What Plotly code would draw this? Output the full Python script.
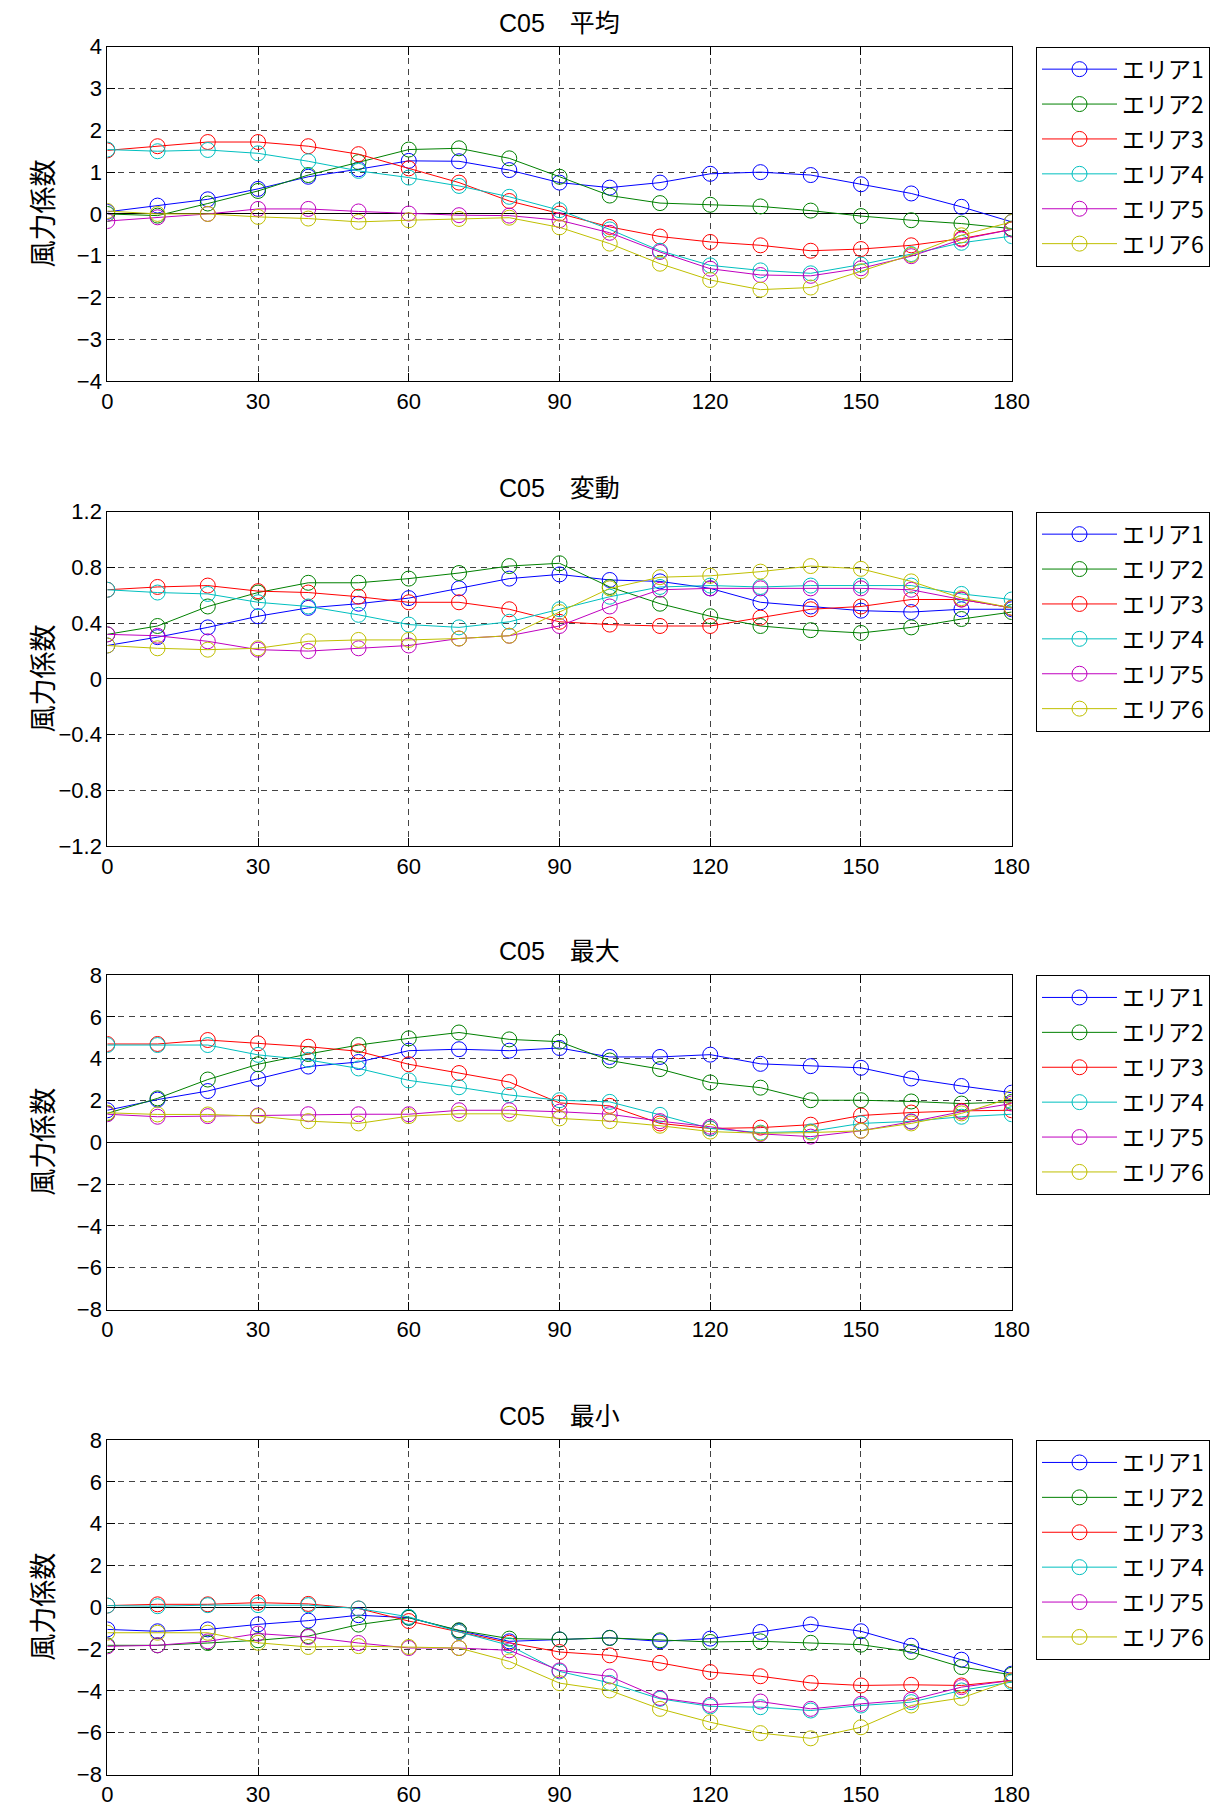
import plotly.graph_objects as go

angles = [0, 10, 20, 30, 40, 50, 60, 70, 80, 90, 100, 110, 120, 130, 140, 150, 160, 170, 180]
area_names = ["エリア1", "エリア2", "エリア3", "エリア4", "エリア5", "エリア6"]
area_colors = ["#0000ff", "#008000", "#ff0000", "#00bfbf", "#bf00bf", "#bfbf00"]
panel_titles = ["C05　平均", "C05　変動", "C05　最大", "C05　最小"]
y_title = "風力係数"
x_ticks = [0, 30, 60, 90, 120, 150, 180]

# 平均
mean_a1 = [0.05, 0.2, 0.35, 0.6, 0.89, 1.07, 1.27, 1.26, 1.05, 0.75, 0.63, 0.75, 0.96, 1.0, 0.93, 0.71, 0.49, 0.17, -0.19]
mean_a2 = [0.0, -0.04, 0.25, 0.55, 0.93, 1.24, 1.54, 1.57, 1.33, 0.89, 0.44, 0.26, 0.22, 0.18, 0.08, -0.05, -0.15, -0.23, -0.35]
mean_a3 = [1.52, 1.62, 1.72, 1.72, 1.62, 1.43, 1.09, 0.75, 0.31, 0.01, -0.31, -0.54, -0.67, -0.75, -0.88, -0.84, -0.75, -0.59, -0.37]
mean_a4 = [1.54, 1.5, 1.53, 1.45, 1.26, 1.03, 0.87, 0.67, 0.41, 0.09, -0.37, -0.88, -1.23, -1.35, -1.42, -1.21, -0.96, -0.69, -0.53]
mean_a5 = [-0.17, -0.08, 0.0, 0.12, 0.12, 0.06, 0.01, -0.03, -0.04, -0.15, -0.45, -0.91, -1.31, -1.46, -1.48, -1.3, -1.01, -0.61, -0.37]
mean_a6 = [0.07, 0.0, 0.0, -0.07, -0.11, -0.19, -0.15, -0.12, -0.09, -0.32, -0.71, -1.19, -1.58, -1.81, -1.76, -1.37, -0.98, -0.51, -0.19]

# 変動
std_a1 = [0.24, 0.3, 0.37, 0.45, 0.51, 0.54, 0.58, 0.65, 0.72, 0.75, 0.71, 0.7, 0.65, 0.55, 0.52, 0.49, 0.48, 0.5, 0.5]
std_a2 = [0.32, 0.38, 0.52, 0.62, 0.69, 0.69, 0.72, 0.76, 0.81, 0.83, 0.66, 0.54, 0.45, 0.38, 0.35, 0.33, 0.37, 0.43, 0.48]
std_a3 = [0.64, 0.66, 0.67, 0.63, 0.62, 0.59, 0.55, 0.55, 0.5, 0.41, 0.39, 0.38, 0.38, 0.44, 0.5, 0.52, 0.57, 0.57, 0.51]
std_a4 = [0.64, 0.62, 0.61, 0.55, 0.52, 0.46, 0.39, 0.37, 0.41, 0.5, 0.59, 0.66, 0.67, 0.66, 0.67, 0.67, 0.67, 0.61, 0.57]
std_a5 = [0.32, 0.31, 0.27, 0.21, 0.2, 0.22, 0.24, 0.29, 0.31, 0.38, 0.52, 0.64, 0.65, 0.65, 0.65, 0.65, 0.64, 0.57, 0.51]
std_a6 = [0.24, 0.22, 0.21, 0.22, 0.27, 0.28, 0.28, 0.29, 0.31, 0.48, 0.65, 0.73, 0.74, 0.77, 0.81, 0.79, 0.7, 0.58, 0.51]

# 最大
max_a1 = [1.53, 2.04, 2.45, 3.04, 3.62, 3.84, 4.38, 4.45, 4.38, 4.51, 4.08, 4.08, 4.19, 3.75, 3.64, 3.56, 3.05, 2.69, 2.37]
max_a2 = [1.38, 2.1, 3.0, 3.73, 4.22, 4.65, 4.97, 5.25, 4.92, 4.81, 3.91, 3.5, 2.86, 2.61, 2.01, 2.01, 1.95, 1.85, 1.93]
max_a3 = [4.7, 4.7, 4.89, 4.73, 4.57, 4.35, 3.73, 3.31, 2.88, 1.88, 1.74, 0.9, 0.66, 0.7, 0.84, 1.28, 1.42, 1.5, 1.53]
max_a4 = [4.65, 4.65, 4.65, 4.18, 3.94, 3.53, 2.96, 2.63, 2.26, 2.01, 1.93, 1.31, 0.66, 0.46, 0.52, 0.9, 1.0, 1.22, 1.34]
max_a5 = [1.34, 1.22, 1.25, 1.28, 1.34, 1.34, 1.34, 1.53, 1.53, 1.46, 1.34, 1.01, 0.74, 0.4, 0.27, 0.55, 0.98, 1.46, 1.85]
max_a6 = [1.41, 1.33, 1.33, 1.25, 1.01, 0.9, 1.25, 1.36, 1.36, 1.14, 1.01, 0.79, 0.51, 0.43, 0.46, 0.55, 0.9, 1.38, 2.12]

# 最小
min_a1 = [-1.06, -1.15, -1.06, -0.82, -0.64, -0.38, -0.5, -1.12, -1.63, -1.54, -1.46, -1.63, -1.5, -1.18, -0.82, -1.15, -1.84, -2.51, -3.18]
min_a2 = [-1.82, -1.82, -1.71, -1.58, -1.38, -0.83, -0.5, -1.1, -1.5, -1.54, -1.47, -1.58, -1.66, -1.63, -1.7, -1.79, -2.14, -2.86, -3.23]
min_a3 = [0.08, 0.14, 0.14, 0.22, 0.16, -0.06, -0.66, -1.18, -1.7, -2.14, -2.3, -2.66, -3.1, -3.3, -3.62, -3.74, -3.71, -3.74, -3.5]
min_a4 = [0.08, 0.05, 0.1, 0.1, 0.1, -0.06, -0.46, -1.18, -1.82, -3.07, -3.62, -4.38, -4.74, -4.78, -4.94, -4.7, -4.54, -3.98, -3.58]
min_a5 = [-1.87, -1.82, -1.63, -1.26, -1.42, -1.71, -1.95, -1.95, -2.06, -3.02, -3.31, -4.34, -4.67, -4.51, -4.86, -4.62, -4.43, -3.82, -3.5]
min_a6 = [-1.22, -1.22, -1.22, -1.7, -1.9, -1.86, -1.9, -1.95, -2.59, -3.63, -3.98, -4.86, -5.5, -6.02, -6.27, -5.74, -4.7, -4.34, -3.5]

panels = [
    [mean_a1, mean_a2, mean_a3, mean_a4, mean_a5, mean_a6],
    [std_a1, std_a2, std_a3, std_a4, std_a5, std_a6],
    [max_a1, max_a2, max_a3, max_a4, max_a5, max_a6],
    [min_a1, min_a2, min_a3, min_a4, min_a5, min_a6],
]
y_ranges = [(-4, 4, 1), (-1.2, 1.2, 0.4), (-8, 8, 2), (-8, 8, 2)]

# page body has an 8px margin, so the figure is placed at (8, 8) in the window
OFF = 8
W, H = 1223 - OFF, 1809 - OFF
plot_left, plot_right = 107.3 - OFF, 1011.7 - OFF
panel_tops = [t - OFF for t in (46.7, 511.7, 975.0, 1440.0)]
panel_h = 334.5
legend_left = 1036 - OFF
ytitle_x = 41.5 - OFF

FONT = "Liberation Sans, Noto Sans CJK JP, sans-serif"
JFONT = "Noto Sans CJK JP, sans-serif"

fig = go.Figure()
layout = dict(
    width=W, height=H,
    margin=dict(l=0, r=0, t=0, b=0, autoexpand=False),
    paper_bgcolor="white", plot_bgcolor="white",
    font=dict(family=FONT, size=22, color="black"),
    annotations=[],
)

for p, series in enumerate(panels):
    suffix = "" if p == 0 else str(p + 1)
    legend_name = "legend" + suffix
    for i, ys in enumerate(series):
        fig.add_trace(go.Scatter(
            x=angles, y=ys, name=area_names[i], mode="lines+markers",
            line=dict(color=area_colors[i], width=1),
            marker=dict(symbol="circle-open", size=15, color=area_colors[i], line=dict(width=1)),
            xaxis="x" + suffix, yaxis="y" + suffix, legend=legend_name,
            legendgroup="p%d_a%d" % (p, i),
        ))
    top = panel_tops[p]
    bottom = top + panel_h
    ydom = [1 - bottom / H, 1 - top / H]
    lo, hi, step = y_ranges[p]
    axis_common = dict(
        showline=True, linecolor="black", linewidth=1, mirror="ticks",
        ticks="inside", ticklen=8, tickcolor="black", automargin=False,
        showgrid=True, gridcolor="#444444", griddash="6px,5px", gridwidth=1,
        tickfont=dict(family=FONT, size=22, color="black"),
    )
    layout["xaxis" + suffix] = dict(
        axis_common, domain=[plot_left / W, plot_right / W], range=[0, 180],
        tickvals=x_ticks, zeroline=False, anchor="y" + suffix,
    )
    layout["yaxis" + suffix] = dict(
        axis_common, domain=ydom, range=[lo, hi], dtick=step, tick0=0,
        zeroline=True, zerolinecolor="black", zerolinewidth=1, anchor="x" + suffix,
    )
    layout[legend_name] = dict(
        x=legend_left / W, y=1 - top / H, xanchor="left", yanchor="top",
        bgcolor="white", bordercolor="black", borderwidth=1,
        font=dict(family=JFONT, size=23, color="black"),
        itemwidth=75, tracegroupgap=2, traceorder="grouped",
    )
    layout["annotations"].append(dict(
        text=panel_titles[p], xref="paper", yref="paper",
        x=(plot_left + plot_right) / 2 / W, y=1 - (top - 24) / H,
        xanchor="center", yanchor="middle", showarrow=False,
        font=dict(family=FONT, size=25, color="black"),
    ))
    layout["annotations"].append(dict(
        text=y_title, xref="paper", yref="paper", textangle=-90,
        x=ytitle_x / W, y=1 - (top + panel_h / 2) / H,
        xanchor="center", yanchor="middle", showarrow=False,
        font=dict(family=JFONT, size=27, color="black"),
    ))

fig.update_layout(**layout)
fig.write_html("out.html")
